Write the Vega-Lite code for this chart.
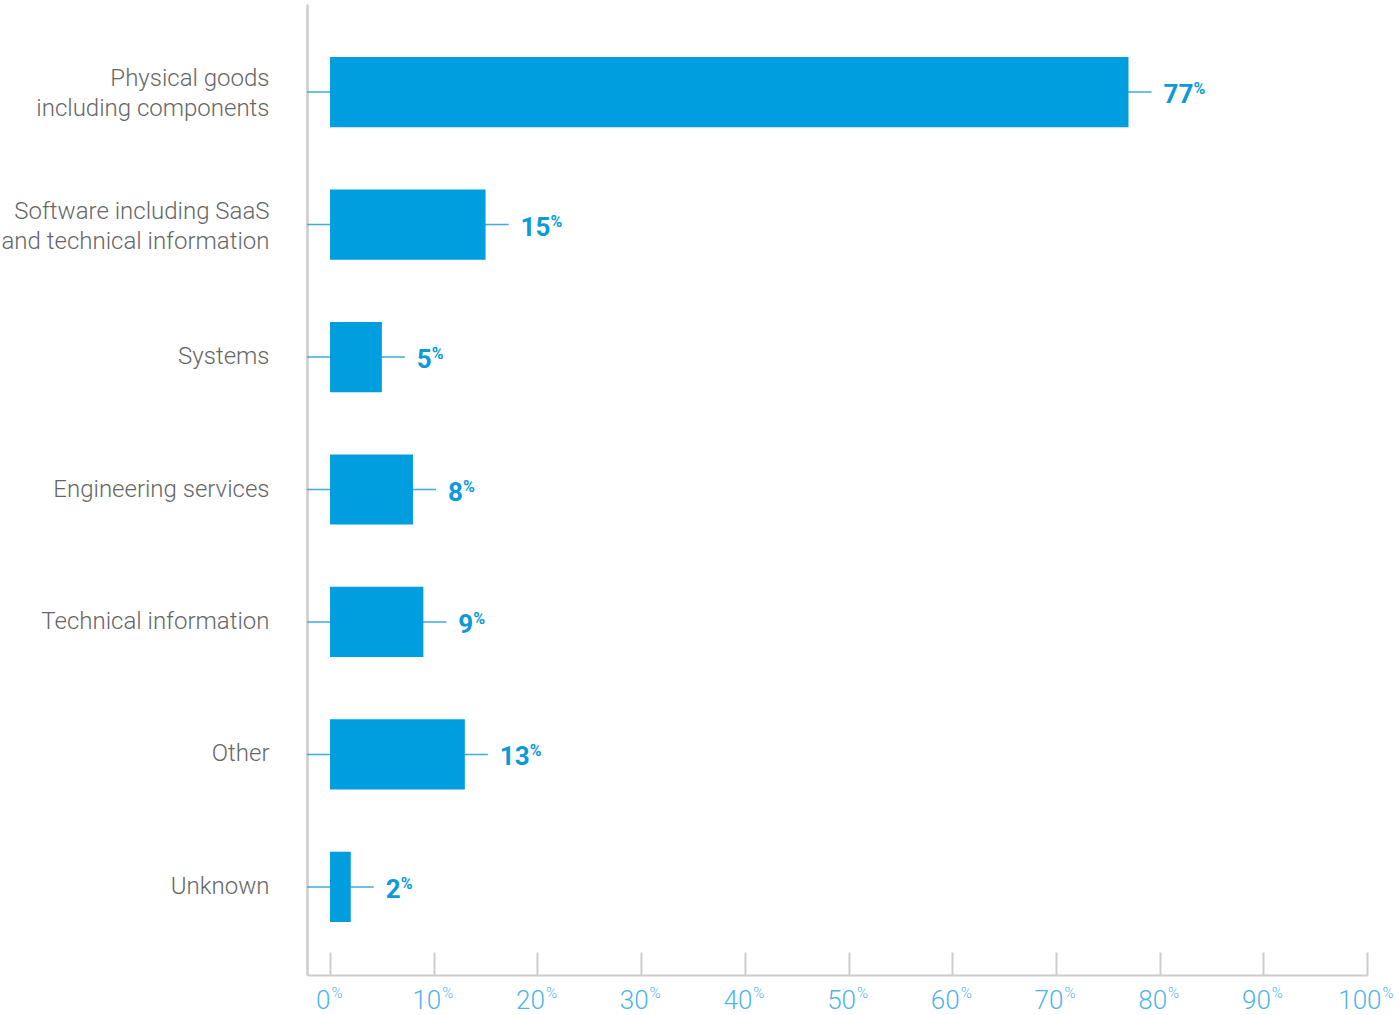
{
  "$schema": "https://vega.github.io/schema/vega-lite/v6.json",
  "width": 1060,
  "height": 971,
  "autosize": "none",
  "padding": {"left": 307, "top": 4, "right": 32, "bottom": 40},
  "background": "white",
  "config": {"view": {"stroke": null}, "font": "Roboto"},
  "data": {
    "values": [
      {"category": "Physical goods|including components", "value": 77},
      {"category": "Software including SaaS|and technical information", "value": 15},
      {"category": "Systems", "value": 5},
      {"category": "Engineering services", "value": 8},
      {"category": "Technical information", "value": 9},
      {"category": "Other", "value": 13},
      {"category": "Unknown", "value": 2}
    ]
  },
  "encoding": {
    "y": {
      "field": "category",
      "type": "nominal",
      "sort": null,
      "scale": {"paddingInner": 0.47, "paddingOuter": 0.4},
      "axis": {
        "title": null,
        "domainColor": "#cccccc",
        "domainWidth": 2.5,
        "ticks": false,
        "labelPadding": 38,
        "labelFont": "Roboto",
        "labelFontSize": 24,
        "labelFontWeight": 300,
        "labelColor": "#666666",
        "labelLineHeight": 30,
        "labelLimit": 320,
        "labelOffset": {"condition": {"test": "indexof(datum.value, '|') >= 0", "value": -13}, "value": 0},
        "labelExpr": "split(datum.label, '|')"
      }
    }
  },
  "layer": [
    {
      "mark": {"type": "rule", "color": "#3ea9dd", "strokeWidth": 1.5, "xOffset": 23, "x2Offset": -23},
      "encoding": {
        "x": {
          "field": "value",
          "type": "quantitative",
          "scale": {"domain": [-2.22, 100], "nice": false, "zero": false},
          "axis": {
            "title": null,
            "orient": "bottom",
            "values": [0, 10, 20, 30, 40, 50, 60, 70, 80, 90, 100],
            "grid": false,
            "domainColor": "#cccccc",
            "domainWidth": 2,
            "tickColor": "#cccccc",
            "tickWidth": 2,
            "tickSize": -23,
            "labelFont": "Roboto",
            "labelFontSize": 26,
            "labelFontWeight": 300,
            "labelColor": "#4db6e8",
            "labelAlign": "right",
            "labelBaseline": "alphabetic",
            "labelPadding": 56,
            "labelFlush": false,
            "labelOverlap": false,
            "labelBound": false,
            "labelOffset": {"condition": [{"test": "datum.value == 0", "value": 0}, {"test": "datum.value == 100", "value": 14}], "value": 7}
          }
        },
        "x2": {"datum": 0}
      }
    },
    {
      "mark": {"type": "bar", "color": "#009ddf"},
      "encoding": {
        "x": {"field": "value", "type": "quantitative", "axis": null},
        "x2": {"datum": 0}
      }
    },
    {
      "mark": {"type": "text", "align": "left", "baseline": "alphabetic", "dx": 35, "dy": 11, "fontSize": 26, "fontWeight": "bold", "color": "#0a9ad9", "font": "Roboto"},
      "encoding": {
        "x": {"field": "value", "type": "quantitative", "axis": null},
        "text": {"field": "value", "type": "quantitative"}
      }
    },
    {
      "mark": {"type": "text", "align": "left", "baseline": "alphabetic", "dx": {"expr": "datum.value >= 10 ? 65 : 50"}, "dy": 2, "fontSize": 16, "fontWeight": "bold", "color": "#0a9ad9", "font": "Roboto", "text": "%"},
      "encoding": {
        "x": {
          "field": "value",
          "type": "quantitative",
          "axis": {
            "title": null,
            "orient": "bottom",
            "values": [0, 10, 20, 30, 40, 50, 60, 70, 80, 90, 100],
            "grid": false,
            "domain": false,
            "ticks": false,
            "labelExpr": "'%'",
            "labelFont": "Roboto",
            "labelFontSize": 15,
            "labelFontWeight": 300,
            "labelColor": "#4db6e8",
            "labelAlign": "left",
            "labelBaseline": "alphabetic",
            "labelPadding": 22,
            "labelFlush": false,
            "labelOverlap": false,
            "labelBound": false,
            "labelOffset": {"condition": [{"test": "datum.value == 0", "value": 1}, {"test": "datum.value == 100", "value": 15}], "value": 8}
          }
        }
      }
    }
  ],
  "resolve": {"axis": {"x": "independent"}}
}
